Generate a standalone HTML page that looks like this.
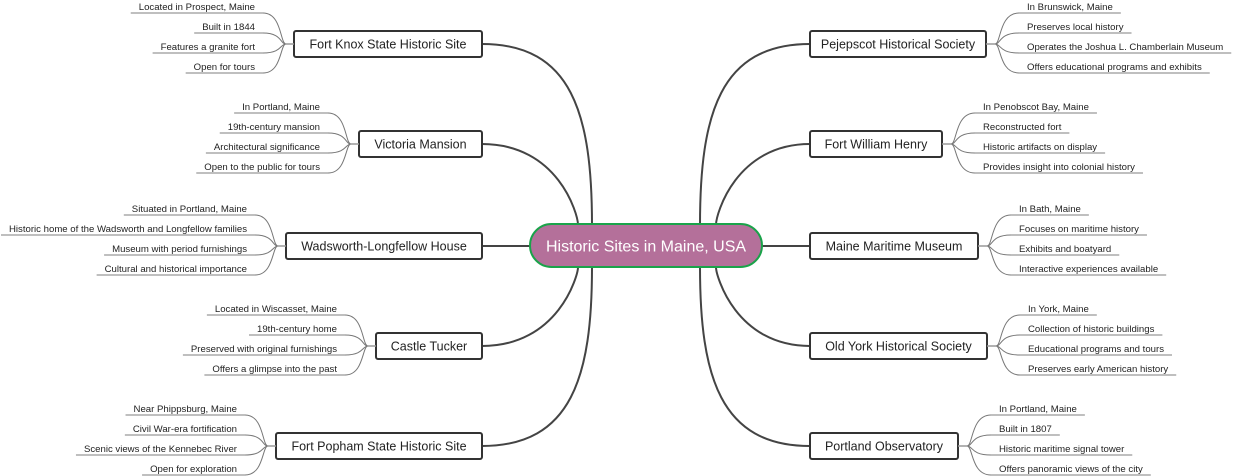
<!DOCTYPE html>
<html><head><meta charset="utf-8"><style>
html,body{margin:0;padding:0;background:#fff;}
svg{display:block;font-family:"Liberation Sans",Arial,sans-serif;}
</style></head><body>
<svg id="s" width="1240" height="476" viewBox="0 0 1240 476" xmlns="http://www.w3.org/2000/svg"></svg>
<script>
var S=document.getElementById('s'),NS='http://www.w3.org/2000/svg';
function el(t,a,txt){var e=document.createElementNS(NS,t);for(var k in a)e.setAttribute(k,a[k]);if(txt)e.textContent=txt;S.appendChild(e);return e;}
var L=[
["Fort Knox State Historic Site",294,44,["Located in Prospect, Maine","Built in 1844","Features a granite fort","Open for tours"],592],
["Victoria Mansion",359,144,["In Portland, Maine","19th-century mansion","Architectural significance","Open to the public for tours"],578],
["Wadsworth-Longfellow House",286,246,["Situated in Portland, Maine","Historic home of the Wadsworth and Longfellow families","Museum with period furnishings","Cultural and historical importance"],0],
["Castle Tucker",376,346,["Located in Wiscasset, Maine","19th-century home","Preserved with original furnishings","Offers a glimpse into the past"],578],
["Fort Popham State Historic Site",276,446,["Near Phippsburg, Maine","Civil War-era fortification","Scenic views of the Kennebec River","Open for exploration"],592]];
var R=[
["Pejepscot Historical Society",986,44,["In Brunswick, Maine","Preserves local history","Operates the Joshua L. Chamberlain Museum","Offers educational programs and exhibits"],700],
["Fort William Henry",942,144,["In Penobscot Bay, Maine","Reconstructed fort","Historic artifacts on display","Provides insight into colonial history"],716],
["Maine Maritime Museum",978,246,["In Bath, Maine","Focuses on maritime history","Exhibits and boatyard","Interactive experiences available"],0],
["Old York Historical Society",987,346,["In York, Maine","Collection of historic buildings","Educational programs and tours","Preserves early American history"],716],
["Portland Observatory",958,446,["In Portland, Maine","Built in 1807","Historic maritime signal tower","Offers panoramic views of the city"],700]];
var offs=[-31,-11,9,29];
L.forEach(function(g){var y=g[2];if(!g[4]){el('line',{x1:482,y1:y,x2:530,y2:y,stroke:'#444','stroke-width':2});return;}
var ey=y<246?225:267;el('path',{d:'M482,'+y+' C'+(g[4]-20)+','+y+' '+g[4]+','+(y<246?y+70:y-70)+' '+g[4]+','+ey,fill:'none',stroke:'#444','stroke-width':2});});
R.forEach(function(g){var y=g[2];if(!g[4]){el('line',{x1:762,y1:y,x2:810,y2:y,stroke:'#444','stroke-width':2});return;}
var ey=y<246?225:267;el('path',{d:'M810,'+y+' C'+(g[4]+20)+','+y+' '+g[4]+','+(y<246?y+70:y-70)+' '+g[4]+','+ey,fill:'none',stroke:'#444','stroke-width':2});});
el('rect',{x:530,y:224,width:232,height:43,rx:21.5,fill:'#b4709a',stroke:'#1aa34a','stroke-width':2});
el('text',{x:646,y:251.5,'text-anchor':'middle','font-size':16,fill:'#fff'},'Historic Sites in Maine, USA');
function node(x,w,y,t){el('rect',{x:x,y:y-13,width:w,height:26,rx:2,fill:'#fff',stroke:'#333','stroke-width':2});el('text',{x:x+w/2,y:y+4.5,'text-anchor':'middle','font-size':12.5,fill:'#222'},t);}
L.forEach(function(g){var bl=g[1],y=g[2];node(bl,482-bl,y,g[0]);
var cx=bl-8,re=bl-31;el('line',{x1:cx,y1:y,x2:bl,y2:y,stroke:'#999','stroke-width':1.5});
g[3].forEach(function(t,i){var uy=y+offs[i];var tx=el('text',{x:re-8,y:uy-3,'text-anchor':'end','font-size':9.6,fill:'#222'},t);
var w;try{w=tx.getComputedTextLength();}catch(e){w=t.length*4.7;}if(!w)w=t.length*4.7;
el('line',{x1:re-w-16,y1:uy,x2:re,y2:uy,stroke:'#999','stroke-width':1.3});
el('path',{d:'M'+re+','+uy+' C'+(cx-4)+','+uy+' '+(cx-6)+','+y+' '+cx+','+y,fill:'none',stroke:'#777','stroke-width':1});});});
R.forEach(function(g){var br=g[1],y=g[2];node(810,br-810,y,g[0]);
var cx=br+9,ls=br+33;el('line',{x1:br,y1:y,x2:cx,y2:y,stroke:'#999','stroke-width':1.5});
g[3].forEach(function(t,i){var uy=y+offs[i];var tx=el('text',{x:ls+8,y:uy-3,'font-size':9.6,fill:'#222'},t);
var w;try{w=tx.getComputedTextLength();}catch(e){w=t.length*4.7;}if(!w)w=t.length*4.7;
el('line',{x1:ls,y1:uy,x2:ls+w+16,y2:uy,stroke:'#999','stroke-width':1.3});
el('path',{d:'M'+ls+','+uy+' C'+(cx+4)+','+uy+' '+(cx+6)+','+y+' '+cx+','+y,fill:'none',stroke:'#777','stroke-width':1});});});
</script>
</body></html>
